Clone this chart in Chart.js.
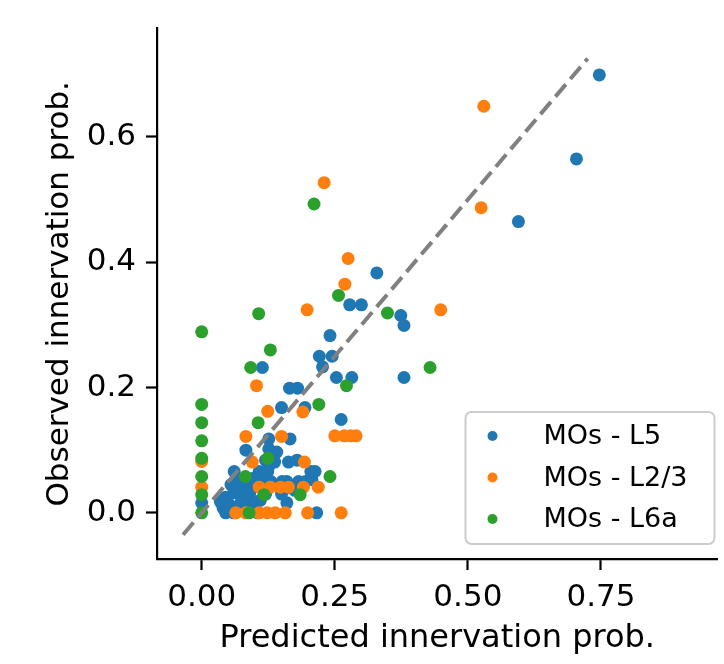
<!DOCTYPE html>
<html>
<head>
<meta charset="utf-8">
<script src="https://cdn.jsdelivr.net/npm/chart.js@4.4.0/dist/chart.umd.min.js"></script>
<style>
html, body { margin: 0; padding: 0; background: #fff; overflow: hidden; }
</style>
</head>
<body>
<canvas id="chart" width="724" height="664"></canvas>
<script>
// series: [predicted, observed]
var l5Points = [
    [0.747, 0.699], [0.704, 0.565], [0.595, 0.465], [0.329, 0.383], [0.374, 0.315],
    [0.380, 0.299], [0.380, 0.216], [0.278, 0.332], [0.300, 0.332], [0.241, 0.283],
    [0.221, 0.250], [0.245, 0.250], [0.227, 0.233], [0.114, 0.232], [0.253, 0.216],
    [0.282, 0.216], [0.165, 0.199], [0.180, 0.199], [0.150, 0.168], [0.194, 0.168],
    [0.262, 0.149], [0.126, 0.118], [0.166, 0.118], [0.083, 0.100], [0.126, 0.102],
    [0.141, 0.097], [0.120, 0.084], [0.137, 0.081], [0.163, 0.081], [0.179, 0.084],
    [0.061, 0.066], [0.108, 0.066], [0.124, 0.066], [0.216, 0.000], [0.000, 0.016],
    [0.045, 0.025], [0.045, 0.000], [0.060, 0.000], [0.070, 0.012], [0.060, 0.032],
    [0.075, 0.036], [0.090, 0.030], [0.100, 0.042], [0.110, 0.020], [0.080, 0.020],
    [0.095, 0.010], [0.105, 0.000], [0.120, 0.030], [0.055, 0.045], [0.085, 0.048],
    [0.150, 0.030], [0.175, 0.036], [0.195, 0.050], [0.205, 0.066], [0.160, 0.050],
    [0.040, 0.008], [0.050, 0.015], [0.065, 0.005], [0.075, 0.022], [0.085, 0.032],
    [0.100, 0.015], [0.115, 0.040], [0.068, 0.050], [0.095, 0.055], [0.112, 0.058],
    [0.130, 0.050], [0.125, 0.072], [0.151, 0.050], [0.182, 0.050], [0.207, 0.053],
    [0.213, 0.066], [0.163, 0.040], [0.160, 0.016], [0.035, 0.018]
];
var l23Points = [
    [0.530, 0.649], [0.525, 0.487], [0.449, 0.324], [0.230, 0.527], [0.275, 0.406],
    [0.269, 0.365], [0.198, 0.324], [0.103, 0.203], [0.124, 0.162], [0.190, 0.161],
    [0.083, 0.122], [0.150, 0.122], [0.250, 0.123], [0.268, 0.123], [0.280, 0.123],
    [0.290, 0.123], [0.095, 0.081], [0.193, 0.081], [0.108, 0.041], [0.129, 0.041],
    [0.148, 0.041], [0.163, 0.041], [0.191, 0.041], [0.219, 0.041], [0.064, 0.000],
    [0.083, 0.000], [0.108, 0.000], [0.123, 0.000], [0.138, 0.000], [0.157, 0.000],
    [0.199, 0.000], [0.262, 0.000], [0.000, 0.082], [0.000, 0.041]
];
var l6aPoints = [
    [0.211, 0.493], [0.257, 0.347], [0.349, 0.319], [0.107, 0.318], [0.000, 0.289],
    [0.129, 0.260], [0.092, 0.232], [0.429, 0.232], [0.272, 0.203], [0.000, 0.173],
    [0.000, 0.144], [0.000, 0.115], [0.000, 0.087], [0.000, 0.058], [0.000, 0.029],
    [0.000, 0.000], [0.220, 0.173], [0.106, 0.144], [0.124, 0.087], [0.082, 0.058],
    [0.241, 0.058], [0.117, 0.029], [0.185, 0.029], [0.089, 0.000]
];
var seriesNames = ['MOs - L5', 'MOs - L2/3', 'MOs - L6a'];
var seriesColors = ['#1f77b4', '#ff7f0e', '#2ca02c'];
var diagLine = [-0.035, 0.725];
var xTicks = [0, 0.25, 0.5, 0.75];
var yTicks = [0, 0.2, 0.4, 0.6];

var FONT = 'DejaVu Sans';

function toXY(list) {
    return list.map(function (p) { return {x: p[0], y: p[1]}; });
}

// matplotlib style legend box in the lower right corner
var legendBox = {
    id: 'legendBox',
    afterDraw: function (chart) {
        var ctx = chart.ctx;
        var area = chart.chartArea;
        var w = 249, h = 132;
        var x0 = area.right - 252, y0 = area.bottom - 147;
        ctx.save();
        ctx.beginPath();
        ctx.roundRect(x0, y0, w, h, 6);
        ctx.fillStyle = 'rgba(255,255,255,0.8)';
        ctx.fill();
        ctx.lineWidth = 2;
        ctx.strokeStyle = '#cccccc';
        ctx.stroke();
        ctx.font = '27px "' + FONT + '"';
        ctx.textBaseline = 'middle';
        ctx.textAlign = 'left';
        for (var i = 0; i < seriesNames.length; i++) {
            var cy = y0 + 24 + i * 41.5;
            ctx.beginPath();
            ctx.arc(x0 + 27, cy, 5, 0, Math.PI * 2);
            ctx.fillStyle = seriesColors[i];
            ctx.fill();
            ctx.fillStyle = '#000';
            ctx.fillText(seriesNames[i], x0 + 78, cy + 1);
        }
        ctx.restore();
    }
};

function scatterSet(i, pts, order) {
    return {
        type: 'scatter',
        label: seriesNames[i],
        data: toXY(pts),
        backgroundColor: seriesColors[i],
        borderWidth: 0,
        pointRadius: 6.5,
        pointHoverRadius: 6.5,
        order: order
    };
}

var axisFont = {family: FONT, size: 31};

new Chart(document.getElementById('chart'), {
    data: {
        datasets: [
            scatterSet(0, l5Points, 3),
            scatterSet(1, l23Points, 2),
            scatterSet(2, l6aPoints, 1),
            {
                type: 'line',
                data: [{x: diagLine[0], y: diagLine[0]}, {x: diagLine[1], y: diagLine[1]}],
                borderColor: '#808080',
                borderWidth: 4,
                borderDash: [16, 7],
                pointRadius: 0,
                fill: false,
                order: 0
            }
        ]
    },
    options: {
        responsive: false,
        animation: false,
        layout: {padding: {top: 19, right: 0, bottom: 0, left: 0}},
        plugins: {
            legend: {display: false},
            tooltip: {enabled: false}
        },
        scales: {
            x: {
                type: 'linear',
                min: -0.084,
                max: 0.969,
                afterFit: function (s) { s.height = 105; },
                afterBuildTicks: function (s) { s.ticks = xTicks.map(function (v) { return {value: v}; }); },
                ticks: {
                    callback: function (v) { return v.toFixed(2); },
                    font: axisFont, color: '#000', padding: 9, maxRotation: 0, autoSkip: false
                },
                grid: {drawOnChartArea: false, tickLength: 11, tickWidth: 2.2, tickColor: '#000'},
                border: {display: true, color: '#000', width: 2.2},
                title: {
                    display: true, text: 'Predicted innervation prob.',
                    font: {family: FONT, size: 32}, color: '#000', padding: {top: 0, bottom: 6}
                }
            },
            y: {
                type: 'linear',
                min: -0.0737,
                max: 0.773,
                afterFit: function (s) { s.width = 157; },
                afterBuildTicks: function (s) { s.ticks = yTicks.map(function (v) { return {value: v}; }); },
                ticks: {
                    callback: function (v) { return v.toFixed(1); },
                    font: axisFont, color: '#000', padding: 10, autoSkip: false
                },
                grid: {drawOnChartArea: false, tickLength: 11, tickWidth: 2.2, tickColor: '#000'},
                border: {display: true, color: '#000', width: 2.2},
                title: {
                    display: true, text: 'Observed innervation prob.',
                    font: axisFont, color: '#000', padding: {top: 41, bottom: 0}
                }
            }
        }
    },
    plugins: [legendBox]
});
</script>
</body>
</html>
